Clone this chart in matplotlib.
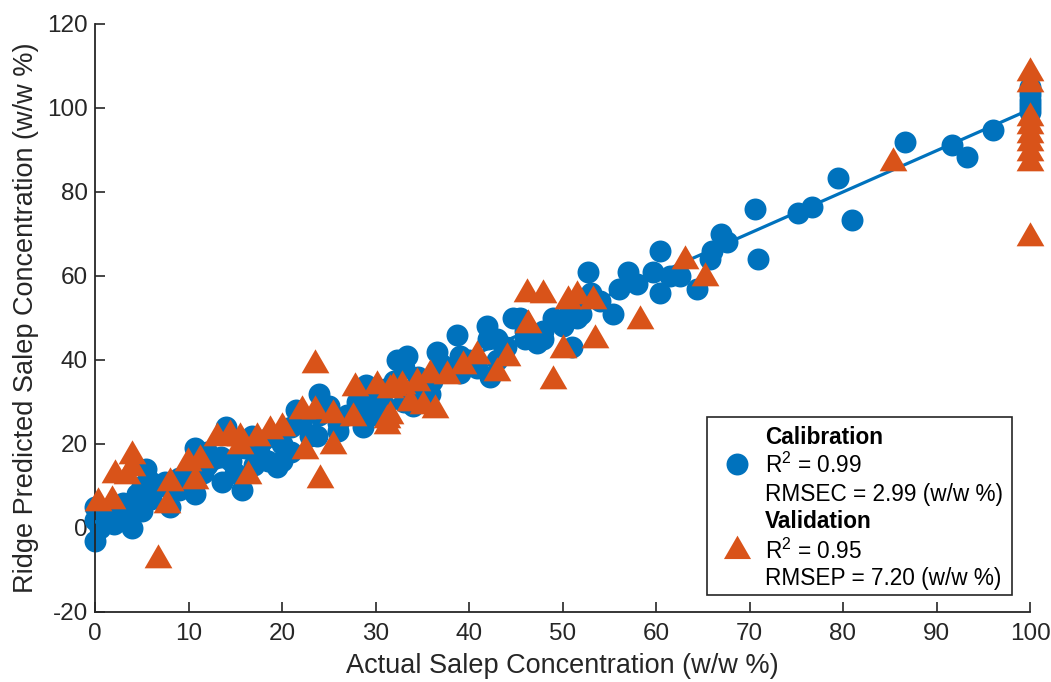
import numpy as np
import matplotlib
matplotlib.use("Agg")
import matplotlib.pyplot as plt
from matplotlib.patches import Rectangle

plt.rcParams['font.family'] = ['Liberation Sans', 'DejaVu Sans']
plt.rcParams['axes.unicode_minus'] = False
plt.rcParams['mathtext.fontset'] = 'custom'
plt.rcParams['mathtext.rm'] = 'Liberation Sans'

# Calibration set (actual, predicted)
cal_x = [0, 0, 0, 0.5, 1, 2, 2.5, 3, 4, 4, 4.5, 5, 5.5, 5, 6, 7, 7.5, 8, 8.5, 9,
         10, 10.7, 10.7, 11.5, 12, 13.5, 13.6, 14, 14.5, 15, 15.7, 16, 16.8, 17.5, 18, 18.5,
         19.5, 19, 20, 21, 21.5, 21, 22, 23, 23.7, 24, 24, 25, 26, 27, 28, 28.7, 29, 30,
         30, 31, 32, 32.3, 33, 33.4, 33, 34, 34.5, 35, 35.8, 36.6, 37, 38, 38.7, 39, 40,
         40.9, 41.9, 42, 42.2, 43, 44, 44.7, 45.5, 46, 47.3, 47.9, 47.9, 49, 50, 50.8, 51,
         51.5, 52, 52.7, 53, 54, 55.4, 56, 57, 58, 59.7, 60.4, 60.4, 61.5, 62.6, 64.4, 65.8,
         66, 67, 67.6, 70.6, 70.9, 75.2, 76.7, 79.5, 81, 86.6, 91.7, 93.3, 96,
         100, 100, 100, 100, 100, 100, 100,
         3, 6, 9, 12, 17, 20, 26, 29, 31, 36, 39, 43, 46]
cal_y = [5, -3, 2, 0, 3, 1, 4, 2, 0, 6, 8, 10, 14, 4, 7, 10, 11, 5, 9, 12,
         14, 19, 8, 13, 15, 17, 11, 24, 16, 13, 9, 19, 22, 18, 21, 16,
         14.5, 22, 20, 18, 28, 24, 25, 22, 22, 32, 27, 29, 25, 27, 30, 24, 34, 27,
         31, 33, 35, 40, 38, 41, 30, 29, 36, 33, 32, 42, 39, 38, 46, 41, 40,
         38, 48, 45, 36, 45, 43, 50, 50, 47, 44, 47, 45, 50, 48, 52, 43,
         50, 51, 61, 56, 54, 51, 57, 61, 58, 61, 66, 56, 60, 60, 57, 64,
         66, 70, 68, 76, 64, 75, 76.5, 83.3, 73.3, 92, 91.2, 88.4, 94.8,
         99, 100, 101, 102, 103, 104, 105,
         6, 11, 9, 18, 15, 16, 23, 28, 29, 35, 37, 40, 45]

# Validation set (actual, predicted)
val_x = [0.3, 1.8, 2.1, 3.4, 4, 4, 6.7, 7.7, 8, 9.9, 10.7, 11.2, 13, 14.4, 15.5, 15.5,
         16.4, 17.3, 18.7, 20, 22.1, 22.5, 23.5, 23.5, 24.1, 25.5, 25.5, 27.6, 27.8, 30.2,
         31.2, 31.2, 31.6, 31.6, 31.9, 32.8, 33.7, 34.4, 35.1, 35.8, 36.4, 37.6, 39.4, 40.9,
         43, 44.1, 46.2, 46.3, 47.9, 49, 50, 50.6, 51.5, 53.3, 53.5, 58.3, 63.1, 65.2, 85.3,
         100, 100, 100, 100, 100, 100, 100, 100, 100]
val_y = [6.7, 7.1, 13.3, 13.1, 17.9, 15, -6.9, 6.2, 11.4, 16.2, 11.9, 17, 22.1, 22.9, 22.1, 20.2,
         13.1, 22.1, 23.8, 24.5, 28.6, 19, 28.6, 39.5, 12.1, 27.6, 20.2, 26.9, 34, 34.5,
         26.4, 25, 33.6, 27.4, 34, 34.5, 30.5, 35.2, 29.8, 37.1, 28.8, 36.9, 39.3, 41.7,
         37.6, 41.2, 56.5, 49, 56.2, 35.7, 43, 54.8, 56, 54.8, 45.5, 50, 64.3, 60.2, 87.6,
         109, 106.5, 98.3, 96.4, 94.3, 92.4, 90, 87.6, 69.8]

x_ticks = [0, 10, 20, 30, 40, 50, 60, 70, 80, 90, 100]
y_ticks = [-20, 0, 20, 40, 60, 80, 100, 120]

BLUE = '#0072BD'
ORANGE = '#D95319'
TXT = '#262626'

W, H = 1051, 682
fig = plt.figure(figsize=(W / 100, H / 100), dpi=100)
ax = fig.add_axes([95 / W, 1 - 612 / H, (1030 - 95) / W, (612 - 24) / H])

tri = [(-1, -0.78), (1, -0.78), (0, 0.95)]

ax.scatter(cal_x, cal_y, s=250, marker='o', color=BLUE, linewidths=0, zorder=2, clip_on=False)
coef = np.polyfit(cal_x, cal_y, 1)
xl = np.array([min(cal_x), max(cal_x)])
ax.plot(xl, np.polyval(coef, xl), color=BLUE, lw=2.3, zorder=3)
ax.scatter(val_x, val_y, s=400, marker=tri, color=ORANGE, linewidths=0, zorder=4, clip_on=False)

ax.set_xlim(0, 100)
ax.set_ylim(-20, 120)
ax.set_xticks(x_ticks)
ax.set_yticks(y_ticks)
ax.tick_params(direction='in', length=7, width=1.2, labelsize=17.5, colors=TXT,
               labelcolor=TXT, pad=5)
ax.tick_params(axis='x', pad=8)
for s in ['top', 'right']:
    ax.spines[s].set_visible(False)
for s in ['left', 'bottom']:
    ax.spines[s].set_linewidth(1.3)
    ax.spines[s].set_color(TXT)

ax.set_xlabel('Actual Salep Concentration (w/w %)', fontsize=19.5, color=TXT, labelpad=6)
ax.set_ylabel('Ridge Predicted Salep Concentration (w/w %)', fontsize=19.5, color=TXT, labelpad=6)

# Legend box
def fx(px):
    return px / W

def fy(py):
    return 1 - py / H

fig.patches.append(Rectangle((fx(707), fy(595)), fx(1012) - fx(707), fy(417) - fy(595),
                             transform=fig.transFigure, facecolor='white',
                             edgecolor=TXT, lw=1.2, zorder=10))
fig.add_artist(plt.Line2D([fx(737)], [fy(464)], marker='o', markersize=15.8, color=BLUE,
                          markeredgewidth=0, transform=fig.transFigure, zorder=11))
fig.add_artist(plt.Line2D([fx(737)], [fy(548)], marker=tri, markersize=19.5, color=ORANGE,
                          markeredgewidth=0, transform=fig.transFigure, zorder=11))
lines = [
    ('Calibration', 437, 'bold'),
    ('R$^2$ = 0.99', 465, 'normal'),
    ('RMSEC = 2.99 (w/w %)', 495, 'normal'),
    ('Validation', 522, 'bold'),
    ('R$^2$ = 0.95', 551, 'normal'),
    ('RMSEP = 7.20 (w/w %)', 579, 'normal'),
]
for txt, py, wt in lines:
    fig.text(fx(765), fy(py), txt, fontsize=16.3, fontweight=wt, va='center', ha='left',
             color='black', zorder=12)

fig.savefig('out.png', dpi=100)
